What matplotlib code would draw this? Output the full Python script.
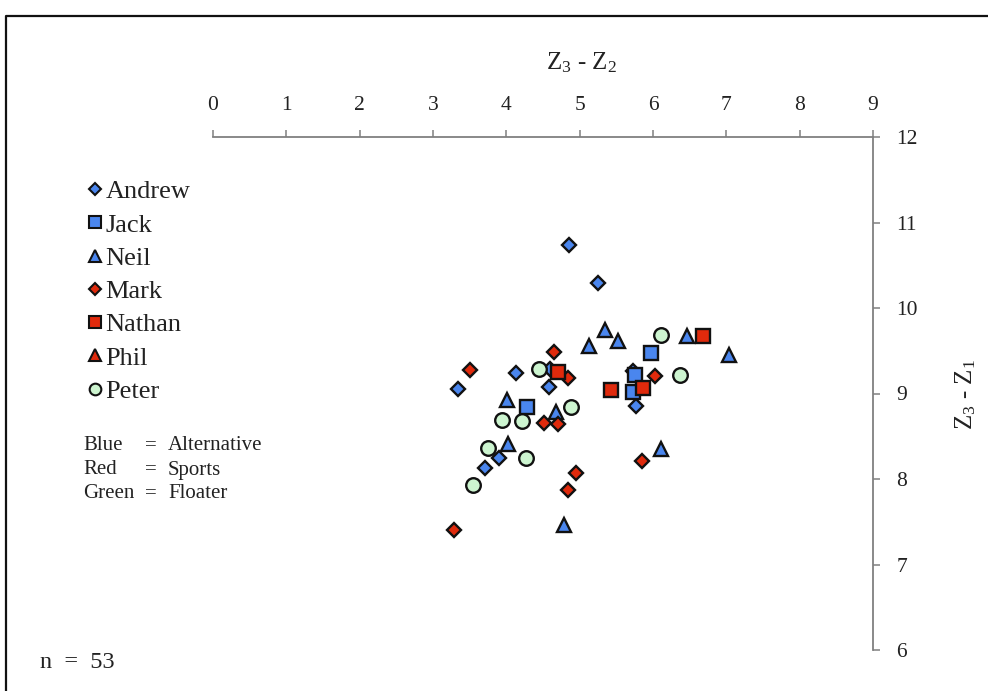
import matplotlib
matplotlib.use("Agg")
import matplotlib.pyplot as plt
from matplotlib.lines import Line2D

plt.rcParams['font.family'] = ['Liberation Serif', 'DejaVu Serif']
plt.rcParams['mathtext.fontset'] = 'custom'
plt.rcParams['mathtext.rm'] = 'Liberation Serif'
plt.rcParams['mathtext.it'] = 'Liberation Serif'

# ---- data (x = Z3 - Z2, y = Z3 - Z1) ----
andrew_x = [4.85, 5.25, 3.34, 4.13, 4.58, 5.77, 3.90, 3.71, 4.60, 5.73]
andrew_y = [10.74, 10.29, 9.05, 9.24, 9.08, 8.85, 8.25, 8.13, 9.29, 9.26]
jack_x = [4.28, 5.97, 5.75, 5.73]
jack_y = [8.84, 9.47, 9.22, 9.02]
neil_x = [5.35, 5.13, 5.52, 6.46, 7.04, 4.01, 4.68, 4.02, 6.11, 4.79]
neil_y = [9.74, 9.56, 9.61, 9.67, 9.45, 8.92, 8.78, 8.41, 8.35, 7.46]
mark_x = [4.65, 3.50, 4.84, 6.03, 4.51, 4.70, 4.95, 4.84, 5.85, 3.29]
mark_y = [9.49, 9.27, 9.18, 9.20, 8.65, 8.64, 8.07, 7.87, 8.21, 7.40]
nathan_x = [4.70, 5.43, 5.86, 6.68]
nathan_y = [9.25, 9.04, 9.06, 9.67]
phil_x = []
phil_y = []
peter_x = [4.45, 6.11, 6.37, 4.88, 3.94, 4.21, 3.75, 4.27, 3.55]
peter_y = [9.29, 9.68, 9.22, 8.84, 8.69, 8.68, 8.36, 8.25, 7.93]

x_ticks = [0, 1, 2, 3, 4, 5, 6, 7, 8, 9]
y_ticks = [6, 7, 8, 9, 10, 11, 12]

BLUE = '#4a86ee'
RED = '#e02a0c'
GREEN = '#cdf5d0'

W, H = 988, 691
fig = plt.figure(figsize=(W / 100, H / 100), dpi=100)
ax = fig.add_axes([213 / W, 1 - 650 / H, 660 / W, (650 - 137) / H])

series = [
    ('Andrew', andrew_x, andrew_y, 'D', BLUE, 7.4),
    ('Jack', jack_x, jack_y, 's', BLUE, 10.5),
    ('Neil', neil_x, neil_y, '^', BLUE, 10.5),
    ('Mark', mark_x, mark_y, 'D', RED, 7.4),
    ('Nathan', nathan_x, nathan_y, 's', RED, 10.5),
    ('Phil', phil_x, phil_y, '^', RED, 10.5),
    ('Peter', peter_x, peter_y, 'o', GREEN, 10.5),
]
handles = []
for name, xs, ys, mk, col, ms in series:
    ax.plot(xs, ys, ls='none', marker=mk, ms=ms, mfc=col, mec='#111111',
            mew=1.7, clip_on=False)
    handles.append(Line2D([], [], ls='none', marker=mk, ms=ms * 0.8,
                          mfc=col, mec='#111111', mew=1.5, label=name))

ax.set_xlim(0, 9)
ax.set_ylim(6, 12)
ax.set_xticks(x_ticks)
ax.set_yticks(y_ticks)
ax.xaxis.tick_top()
ax.yaxis.tick_right()
for s in ['bottom', 'left']:
    ax.spines[s].set_visible(False)
for s in ['top', 'right']:
    ax.spines[s].set_color('#808080')
    ax.spines[s].set_linewidth(1.3)
ax.tick_params(axis='x', direction='out', length=5, width=1.1, color='#808080',
               pad=11, labelsize=15.5, labelcolor='#222222')
ax.tick_params(axis='y', direction='out', length=5, width=1.1, color='#808080',
               pad=12, labelsize=15.5, labelcolor='#222222')
ax.patch.set_alpha(0)

fig.text(581 / W, 1 - 63 / H, r'$\mathregular{Z_3}$ - $\mathregular{Z_2}$',
         ha='center', va='center', fontsize=18, color='#222222')
fig.text(966 / W, 1 - 395 / H, r'$\mathregular{Z_3}$ - $\mathregular{Z_1}$',
         ha='center', va='center', fontsize=18, color='#222222', rotation=90)

leg = fig.legend(handles=handles, loc='upper left',
                 bbox_to_anchor=(87 / W, 1 - 180 / H), frameon=False,
                 fontsize=19, handlelength=0.6, handletextpad=0.1,
                 labelspacing=0.37, borderaxespad=0, borderpad=0)
for t in leg.get_texts():
    t.set_color('#222222')

rows = [('Blue', 'Alternative'), ('Red', 'Sports'), ('Green', 'Floater')]
for i, (a, b) in enumerate(rows):
    yy = 1 - (446 + 24 * i) / H
    fig.text(83 / W, yy, a, ha='left', va='center', fontsize=15, color='#222222')
    fig.text(145 / W, yy, '=', ha='left', va='center', fontsize=15, color='#222222')
    fig.text(168 / W, yy, b, ha='left', va='center', fontsize=15, color='#222222')

fig.text(40 / W, 1 - 662 / H, 'n  =  53', ha='left', va='center', fontsize=17.5,
         color='#222222')

# outer frame
fig.add_artist(Line2D([6 / W, 6 / W, 1.0], [0, 1 - 16 / H, 1 - 16 / H],
                      transform=fig.transFigure, color='#111111', lw=1.6))

fig.savefig('out.png', dpi=100)
